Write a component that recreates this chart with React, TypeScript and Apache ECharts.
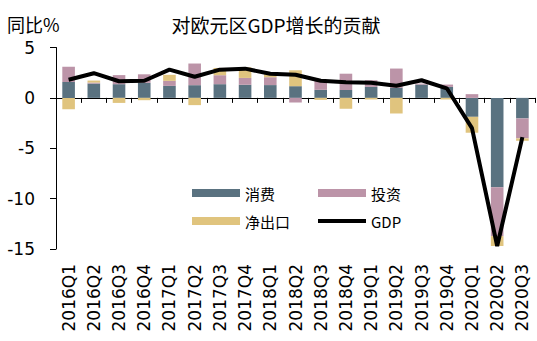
import React, { useEffect, useRef } from "react";
import * as echarts from "echarts";

const categories = [
  "2016Q1", "2016Q2", "2016Q3", "2016Q4",
  "2017Q1", "2017Q2", "2017Q3", "2017Q4",
  "2018Q1", "2018Q2", "2018Q3", "2018Q4",
  "2019Q1", "2019Q2", "2019Q3", "2019Q4",
  "2020Q1", "2020Q2", "2020Q3",
];

const consumption = [
  1.58, 1.42, 1.36, 1.49, 1.19, 1.26, 1.36, 1.3, 1.27, 1.16,
  0.8, 0.78, 1.09, 0.99, 1.32, 1.09, -1.88, -8.87, -2.04,
];
const investment = [
  1.5, 0.1, 0.9, 0.85, 0.5, 2.15, 0.89, 0.68, 0.78, -0.46,
  1.02, 1.62, 0.66, 1.92, 0.1, 0.23, 0.37, -4.85, -1.98,
];
const netExports = [
  -1.12, 0.2, -0.5, -0.23, 0.6, -0.72, 0.72, 1.05, 0.3, 1.58,
  -0.2, -1.08, -0.16, -1.55, 0, -0.16, -1.58, -0.98, -0.24,
];
const gdp = [
  1.8, 2.45, 1.65, 1.7, 2.8, 2.1, 2.8, 2.9, 2.4, 2.3,
  1.7, 1.55, 1.5, 1.2, 1.75, 0.95, -3.0, -14.7, -3.9,
];

const yTicks = { min: -15, max: 5, interval: 5 };

const COLORS = {
  consumption: "#5a7280",
  investment: "#bc94a8",
  netExports: "#e0c47e",
  gdp: "#000000",
};

const LATIN = "'DejaVu Sans', sans-serif";
const CJK = "'Noto Sans CJK SC', sans-serif";

export default function App() {
  const ref = useRef<HTMLDivElement>(null);

  useEffect(() => {
    if (!ref.current) return;
    const chart = echarts.init(ref.current, null, { renderer: "svg" });
    const legendBase = {
      orient: "vertical",
      top: 185,
      padding: 0,
      itemWidth: 48,
      itemHeight: 8,
      itemGap: 12,
      icon: "rect",
      textStyle: { fontFamily: CJK, fontSize: 15, color: "#000", lineHeight: 16, padding: [0, 0, 0, 0] },
      selectedMode: false,
    };
    chart.setOption({
      animation: false,
      backgroundColor: "#ffffff",
      title: [
        {
          text: "对欧元区GDP增长的贡献",
          left: 276,
          textAlign: "center",
          top: 15,
          padding: 0,
          textStyle: { fontFamily: CJK, fontSize: 19, fontWeight: "normal", color: "#000" },
        },
        {
          text: "同比%",
          left: 7,
          top: 15,
          padding: 0,
          textStyle: { fontFamily: CJK, fontSize: 18, fontWeight: "normal", color: "#000" },
        },
      ],
      legend: [
        { ...legendBase, left: 192, data: ["消费", "净出口"] },
        {
          ...legendBase,
          left: 318,
          data: [
            { name: "投资" },
            { name: "GDP", icon: "path://M0,0 L48,0 L48,4 L0,4 Z" },
          ],
        },
      ],
      grid: { left: 56, right: 2, top: 47.5, bottom: 92, containLabel: false },
      xAxis: [
        {
          type: "category",
          data: categories,
          position: "bottom",
          axisLine: { show: true, onZero: true, lineStyle: { color: "#000", width: 1 } },
          axisTick: { show: true, length: 5, interval: 0, lineStyle: { color: "#000" } },
          axisLabel: { show: false },
        },
        {
          type: "category",
          data: categories,
          position: "bottom",
          axisLine: { show: false, onZero: false },
          axisTick: { show: false },
          axisLabel: {
            show: true,
            interval: 0,
            rotate: 90,
            margin: 15,
            fontFamily: LATIN,
            fontSize: 17,
            color: "#000",
          },
        },
      ],
      yAxis: {
        type: "value",
        min: yTicks.min,
        max: yTicks.max,
        interval: yTicks.interval,
        axisLine: { show: true, lineStyle: { color: "#000", width: 1 } },
        axisTick: { show: true, length: 6, lineStyle: { color: "#000" } },
        splitLine: { show: false },
        axisLabel: { margin: 21, fontFamily: LATIN, fontSize: 17, color: "#000" },
      },
      series: [
        {
          name: "消费",
          type: "bar",
          stack: "total",
          barWidth: "50%",
          data: consumption,
          itemStyle: { color: COLORS.consumption },
        },
        {
          name: "投资",
          type: "bar",
          stack: "total",
          barWidth: "50%",
          data: investment,
          itemStyle: { color: COLORS.investment },
        },
        {
          name: "净出口",
          type: "bar",
          stack: "total",
          barWidth: "50%",
          data: netExports,
          itemStyle: { color: COLORS.netExports },
        },
        {
          name: "GDP",
          type: "line",
          data: gdp,
          symbol: "none",
          z: 5,
          itemStyle: { color: COLORS.gdp },
          lineStyle: { color: COLORS.gdp, width: 4 },
        },
      ],
    });
    return () => chart.dispose();
  }, []);

  return (
    <div
      ref={ref}
      style={{ position: "fixed", left: 0, top: 0, width: 537, height: 341, background: "#fff" }}
    />
  );
}
